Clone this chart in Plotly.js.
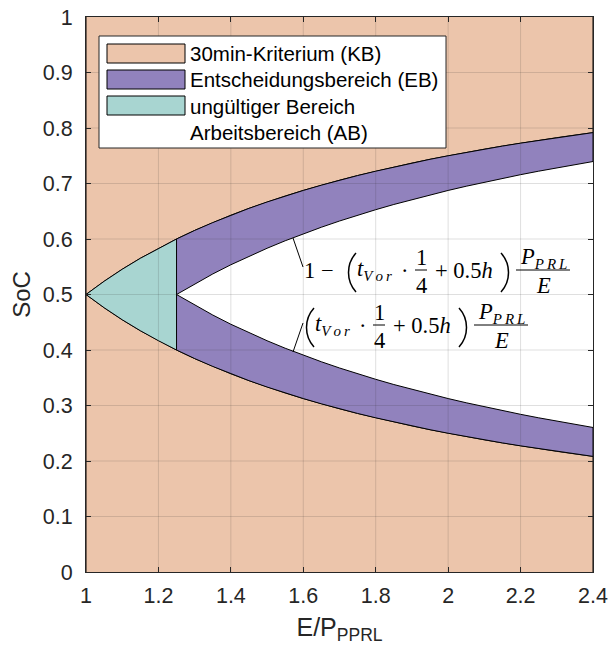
<!DOCTYPE html>
<html><head><meta charset="utf-8">
<script src="https://cdn.plot.ly/plotly-3.0.1.min.js"></script>
<style>html,body{margin:0;padding:0;background:#fff}#chart{width:609px;height:653px}</style>
</head><body><div id="chart"></div>
<script>
// ---- data ----
const xAll = [1.00,1.05,1.10,1.15,1.20,1.25,1.30,1.35,1.40,1.45,1.50,1.55,1.60,1.65,1.70,1.75,1.80,1.85,1.90,1.95,2.00,2.05,2.10,2.15,2.20,2.25,2.30,2.35,2.40];
const socLowerKB = [0.5000,0.4762,0.4545,0.4348,0.4167,0.4000,0.3846,0.3704,0.3571,0.3448,0.3333,0.3226,0.3125,0.3030,0.2941,0.2857,0.2778,0.2703,0.2632,0.2564,0.2500,0.2439,0.2381,0.2326,0.2273,0.2222,0.2174,0.2128,0.2083];
const socUpperKB = [0.5000,0.5238,0.5455,0.5652,0.5833,0.6000,0.6154,0.6296,0.6429,0.6552,0.6667,0.6774,0.6875,0.6970,0.7059,0.7143,0.7222,0.7297,0.7368,0.7436,0.7500,0.7561,0.7619,0.7674,0.7727,0.7778,0.7826,0.7872,0.7917];
const xInner = [1.25,1.30,1.35,1.40,1.45,1.50,1.55,1.60,1.65,1.70,1.75,1.80,1.85,1.90,1.95,2.00,2.05,2.10,2.15,2.20,2.25,2.30,2.35,2.40];
const socLowerEB = [0.5000,0.4808,0.4630,0.4464,0.4310,0.4167,0.4032,0.3906,0.3788,0.3676,0.3571,0.3472,0.3378,0.3289,0.3205,0.3125,0.3049,0.2976,0.2907,0.2841,0.2778,0.2717,0.2660,0.2604];
const socUpperEB = [0.5000,0.5192,0.5370,0.5536,0.5690,0.5833,0.5968,0.6094,0.6212,0.6324,0.6429,0.6528,0.6622,0.6711,0.6795,0.6875,0.6951,0.7024,0.7093,0.7159,0.7222,0.7283,0.7340,0.7396];
const xTicks = [1,1.2,1.4,1.6,1.8,2,2.2,2.4];
const xTickText = ['1','1.2','1.4','1.6','1.8','2','2.2','2.4'];
const yTicks = [0,0.1,0.2,0.3,0.4,0.5,0.6,0.7,0.8,0.9,1];
const yTickText = ['0','0.1','0.2','0.3','0.4','0.5','0.6','0.7','0.8','0.9','1'];
const legendLabels = ['30min-Kriterium (KB)','Entscheidungsbereich (EB)','ungültiger Bereich','Arbeitsbereich (AB)'];
const colKB = '#ECC5AB', colEB = '#9182BD', colUB = '#A8D5D1', colAB = '#FFFFFF';

// ---- polygons ----
const k = xAll.indexOf(xInner[0]);
const rev = a => a.slice().reverse();
const edge = {color:'#000', width:1};
const poly = (x,y,c,name) => ({type:'scatter',mode:'lines',x:x,y:y,fill:'toself',fillcolor:c,line:edge,name:name,showlegend:false,hoverinfo:'skip'});
const xMin = xTicks[0], xMax = xTicks[xTicks.length-1];
const yMin = yTicks[0], yMax = yTicks[yTicks.length-1];
const traces = [
  poly([xMin,...xAll,xMax],[yMin,...socLowerKB,yMin],colKB,legendLabels[0]),
  poly([xMin,...xAll,xMax],[yMax,...socUpperKB,yMax],colKB,legendLabels[0]),
  poly([...xInner,...rev(xAll.slice(k))],[...socLowerEB,...rev(socLowerKB.slice(k))],colEB,legendLabels[1]),
  poly([...xInner,...rev(xAll.slice(k))],[...socUpperEB,...rev(socUpperKB.slice(k))],colEB,legendLabels[1]),
  poly([...xAll.slice(0,k+1),...rev(xAll.slice(0,k+1))],[...socLowerKB.slice(0,k+1),...rev(socUpperKB.slice(0,k+1))],colUB,legendLabels[2])
];

// ---- pixel helpers (plot area) ----
const L=86, R=593, T=17, B=572;
const px = v => (v-L)/(R-L);
const py = v => (B-v)/(B-T);

const shapes = [];
const ann = [];
const gridCol = 'rgba(38,38,38,0.15)';
xTicks.slice(1,-1).forEach(v => shapes.push({type:'line',xref:'x',yref:'paper',x0:v,x1:v,y0:0,y1:1,line:{color:gridCol,width:1},layer:'above'}));
yTicks.slice(1,-1).forEach(v => shapes.push({type:'line',xref:'paper',yref:'y',x0:0,x1:1,y0:v,y1:v,line:{color:gridCol,width:1},layer:'above'}));

// ---- legend (manual, MATLAB style) ----
shapes.push({type:'rect',xref:'paper',yref:'paper',x0:px(99),x1:px(446),y0:py(148),y1:py(36),fillcolor:'#fff',line:{color:'#262626',width:1},layer:'above'});
const legCols = [colKB,colEB,colUB,colAB];
legendLabels.forEach((lab,i) => {
  const top = 44 + i*26;
  if (i < 3) shapes.push({type:'rect',xref:'paper',yref:'paper',x0:px(107),x1:px(185),y0:py(top+19),y1:py(top),fillcolor:legCols[i],line:{color:'#000',width:1},layer:'above'});
  ann.push({xref:'paper',yref:'paper',x:px(188),y:py(top+10),text:lab,showarrow:false,xanchor:'left',yanchor:'middle',font:{family:'Liberation Sans, Arial, sans-serif',size:20.5,color:'#000'}});
});

// ---- formulas ----
const ff = {family:'Liberation Serif, Times New Roman, serif',size:22.5,color:'#000'};
const sub = s => '<sub><span style="font-size:15px"><i>'+s.split('').join('\u2009')+'</i></span></sub>';
function t(xp,yp,text,anchor){ann.push({xref:'paper',yref:'paper',x:px(xp),y:py(yp),text:text,showarrow:false,xanchor:anchor||'center',yanchor:'middle',font:ff});}
function bar(x0,x1,y){shapes.push({type:'line',xref:'paper',yref:'paper',x0:px(x0),x1:px(x1),y0:py(y),y1:py(y),line:{color:'#000',width:1},layer:'above'});}
function pth(pts){
  const p = pts.map(q=>px(q[0])+' '+py(q[1]));
  shapes.push({type:'path',xref:'paper',yref:'paper',path:'M '+p[0]+' C '+p[1]+' '+p[2]+' '+p[3],line:{color:'#000',width:1.5},layer:'above'});
}
function formula(ox,oy,withOne){
  if (withOne) t(ox-43,oy,'1 \u2212','left');
  pth([[ox+11,oy-17],[ox+1,oy-6],[ox+1,oy+11],[ox+11,oy+22]]);
  t(ox+10,oy,'<i>t</i>'+sub('Vor'),'left');
  t(ox+60,oy,'\u00b7');
  t(ox+76,oy-13,'1'); bar(ox+70,ox+82,oy); t(ox+76,oy+15,'4');
  t(ox+88,oy,'+ 0.5<i>h</i>','left');
  pth([[ox+156,oy-17],[ox+166,oy-6],[ox+166,oy+11],[ox+156,oy+22]]);
  t(ox+198,oy-12,'<i>P</i>'+sub('PRL')); bar(ox+171,ox+225,oy); t(ox+198,oy+15,'<i>E</i>');
}
formula(345,270,true);
formula(303,325,false);
// leader lines
shapes.push({type:'line',xref:'paper',yref:'paper',x0:px(293),y0:py(238),x1:px(303),y1:py(267),line:{color:'#000',width:1},layer:'above'});
shapes.push({type:'line',xref:'paper',yref:'paper',x0:px(293),y0:py(352),x1:px(303),y1:py(323),line:{color:'#000',width:1},layer:'above'});

const axFont = {family:'Liberation Sans, Arial, sans-serif',size:21.5,color:'#262626'};
const common = {showgrid:false,zeroline:false,showline:true,mirror:'ticks',linecolor:'#262626',linewidth:1,ticks:'inside',ticklen:5,tickwidth:1,tickcolor:'#262626',tickfont:axFont,layer:'above traces',fixedrange:true};
const layout = {
  width:609,height:653,
  margin:{l:L,r:609-R,t:T,b:653-B},
  paper_bgcolor:'#fff',plot_bgcolor:'#fff',showlegend:false,
  xaxis:Object.assign({},common,{range:[xMin,xMax],tickvals:xTicks,ticktext:xTickText,ticklabelstandoff:4,
    title:{text:'E/P<sub>PPRL</sub>',font:{family:'Liberation Sans, Arial, sans-serif',size:25,color:'#262626'},standoff:11}}),
  yaxis:Object.assign({},common,{range:[yMin,yMax],tickvals:yTicks,ticktext:yTickText,ticklabelstandoff:8,
    title:{text:'SoC',font:{family:'Liberation Sans, Arial, sans-serif',size:24,color:'#262626'},standoff:5}}),
  shapes:shapes,annotations:ann
};
Plotly.newPlot('chart',traces,layout,{displayModeBar:false,staticPlot:true});
</script></body></html>
